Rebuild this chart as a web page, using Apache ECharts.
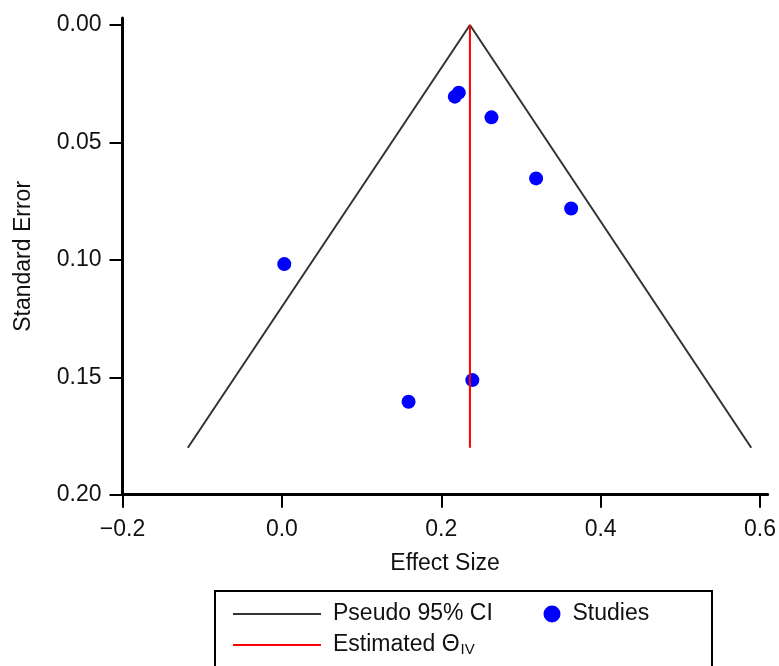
<!DOCTYPE html>
<html lang="en">
<head>
<meta charset="utf-8">
<script src="https://cdn.jsdelivr.net/npm/echarts@6/dist/echarts.min.js"></script>
<style>
  html, body { margin: 0; padding: 0; background: #fff; }
  #funnel { width: 779px; height: 666px; }
</style>
</head>
<body>
<div id="funnel"></div>

<script type="text/javascript">
    // studies (effect size, standard error)
    var studyES = [0.217, 0.222, 0.263, 0.319, 0.363, 0.003, 0.239, 0.159];
    var studySE = [0.0305, 0.0288, 0.0393, 0.0653, 0.0781, 0.1018, 0.1512, 0.1604];

    // pseudo 95% CI funnel (left end, apex, right end)
    var funnelES = [-0.118, 0.236, 0.589];
    var funnelSE = [0.18, 0, 0.18];

    // estimated theta line
    var thetaES = [0.236, 0.236];
    var thetaSE = [0, 0.18];

    var xTicks = [-0.2, 0, 0.2, 0.4, 0.6];
    var yTicks = [0, 0.05, 0.1, 0.15, 0.2];

    var font = 'Liberation Sans';

    function pairs(xs, ys) {
        var out = [];
        for (var i = 0; i < xs.length; i++) out.push([xs[i], ys[i]]);
        return out;
    }

    var myChart = echarts.init(document.getElementById('funnel'));

    var option = {
        animation: false,
        textStyle: { fontFamily: font, color: '#111' },
        grid: { left: 122.5, right: 9, top: 18, bottom: 171.3 },
        xAxis: {
            type: 'value',
            min: -0.2,
            max: 0.6096,
            name: 'Effect Size',
            nameLocation: 'middle',
            nameGap: 57,
            nameTextStyle: { fontSize: 23, color: '#111', fontFamily: font },
            axisLine: { onZero: false, lineStyle: { color: '#000', width: 3 } },
            axisTick: { show: true, length: 13, customValues: xTicks, lineStyle: { color: '#000', width: 2 } },
            axisLabel: {
                customValues: xTicks,
                margin: 23,
                fontSize: 23,
                color: '#111',
                fontFamily: font,
                formatter: function (v) {
                    var s = Math.abs(v).toFixed(1);
                    return v < 0 ? '\u2212' + s : s;
                }
            },
            splitLine: { show: false }
        },
        yAxis: {
            type: 'value',
            inverse: true,
            min: -0.003,
            max: 0.2,
            name: 'Standard Error',
            nameLocation: 'middle',
            nameGap: 87,
            nameTextStyle: { fontSize: 23, color: '#111', fontFamily: font },
            axisLine: { onZero: false, lineStyle: { color: '#000', width: 3 } },
            axisTick: { show: true, length: 13, customValues: yTicks, lineStyle: { color: '#000', width: 2 } },
            axisLabel: {
                customValues: yTicks,
                margin: 21,
                fontSize: 23,
                color: '#111',
                fontFamily: font,
                formatter: function (v) { return v.toFixed(2); }
            },
            splitLine: { show: false }
        },
        legend: [
            {
                data: ['Pseudo 95% CI'],
                left: 233, top: 602.5, padding: 0,
                icon: 'rect',
                itemWidth: 88, itemHeight: 2,
                selectedMode: false,
                textStyle: { fontSize: 23, color: '#111', fontFamily: font, padding: [0, 0, 0, 7] }
            },
            {
                data: ['Studies'],
                left: 543.5, top: 602.5, padding: 0,
                itemWidth: 17, itemHeight: 17,
                icon: 'circle',
                selectedMode: false,
                textStyle: { fontSize: 23, color: '#111', fontFamily: font, padding: [0, 0, 0, 7] }
            },
            {
                data: ['Estimated \u0398IV'],
                left: 233, top: 633.5, padding: 0,
                icon: 'rect',
                itemWidth: 88, itemHeight: 2,
                selectedMode: false,
                formatter: function () { return '{a|Estimated \u0398}{b|IV}'; },
                textStyle: {
                    fontSize: 23, color: '#111', fontFamily: font, padding: [0, 0, 0, 7],
                    rich: {
                        a: { fontSize: 23, color: '#111', fontFamily: font },
                        b: { fontSize: 15, color: '#111', fontFamily: font, padding: [10, 0, 0, 1] }
                    }
                }
            }
        ],
        graphic: [{
            type: 'rect',
            shape: { x: 215, y: 591, width: 497, height: 100 },
            style: { fill: 'none', stroke: '#000', lineWidth: 2 },
            silent: true
        }],
        series: [
            {
                name: 'Studies',
                type: 'scatter',
                symbol: 'circle',
                symbolSize: 14,
                itemStyle: { color: '#0000ff', opacity: 1 },
                data: pairs(studyES, studySE),
                z: 2
            },
            {
                name: 'Pseudo 95% CI',
                type: 'line',
                symbol: 'none',
                lineStyle: { color: '#333333', width: 2 },
                itemStyle: { color: '#333333' },
                data: pairs(funnelES, funnelSE),
                z: 3
            },
            {
                name: 'Estimated \u0398IV',
                type: 'line',
                symbol: 'none',
                lineStyle: { color: '#ff0000', width: 2 },
                itemStyle: { color: '#ff0000' },
                data: pairs(thetaES, thetaSE),
                z: 4
            }
        ]
    };

    myChart.setOption(option);
</script>
</body>
</html>
